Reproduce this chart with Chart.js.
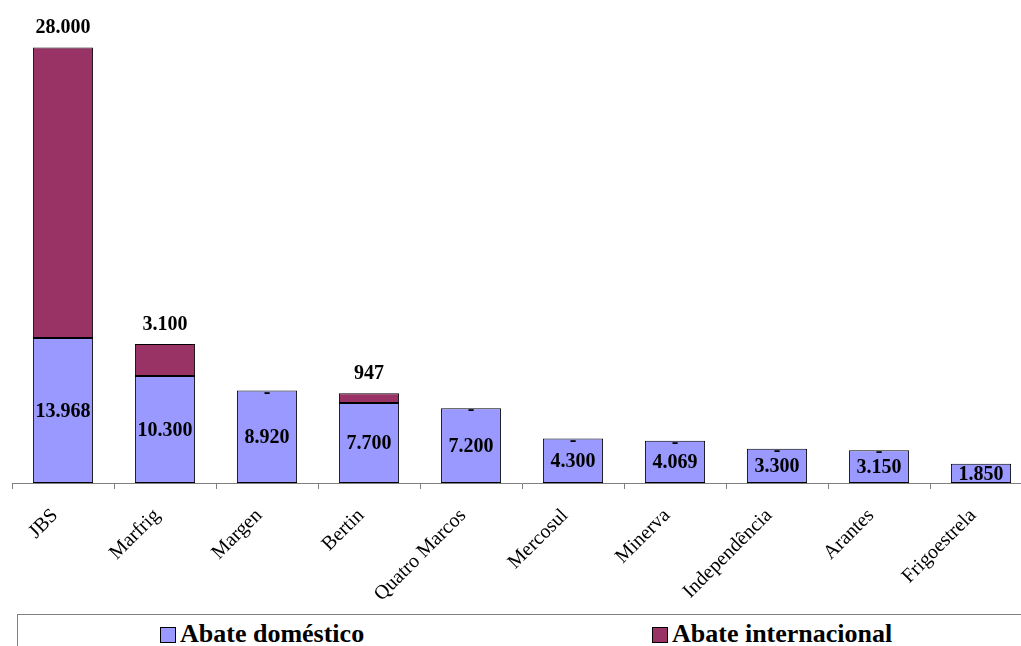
<!DOCTYPE html>
<html>
<head>
<meta charset="utf-8">
<script src="https://cdn.jsdelivr.net/npm/chart.js@4.4.0/dist/chart.umd.min.js"></script>
<style>
    html, body { margin: 0; padding: 0; background: #fff; overflow: hidden; width: 1021px; height: 646px; }
    #wrap { position: absolute; left: 0; top: 0; width: 1032px; height: 610px; }
    #legend { position: absolute; left: 17px; top: 614px; width: 1020px; height: 60px; border: 1px solid #808080; box-sizing: border-box;
              font-family: 'Liberation Serif', serif; font-weight: 700; font-size: 26px; color: #000; }
    .item { position: absolute; top: 5px; white-space: nowrap; line-height: 28px; }
    .sw { display: inline-block; width: 14px; height: 14px; border: 1px solid #000; margin-right: 4px; vertical-align: -1px; }
</style>
</head>
<body>
<div id="wrap"><canvas id="chart"></canvas></div>
<div id="legend">
    <span class="item" style="left:142px"><span class="sw" style="background:#9999FF"></span>Abate doméstico</span>
    <span class="item" style="left:634px"><span class="sw" style="background:#993366"></span>Abate internacional</span>
</div>
<script>
    // Data
    const categories = ['JBS', 'Marfrig', 'Margen', 'Bertin', 'Quatro Marcos', 'Mercosul', 'Minerva', 'Independência', 'Arantes', 'Frigoestrela'];
    const domestic = [13968, 10300, 8920, 7700, 7200, 4300, 4069, 3300, 3150, 1850];
    const international = [28000, 3100, 0, 947, 0, 0, 0, 0, 0, null];

    // Format numbers with a dot as thousands separator
    function fmt(v) {
        return String(v).replace(/\B(?=(\d{3})+(?!\d))/g, '.');
    }

    // Draw the value labels on the bars
    const barLabels = {
        id: 'barLabels',
        afterDatasetsDraw(chart) {
            const ctx = chart.ctx;
            const dom = chart.getDatasetMeta(0).data;
            const intl = chart.getDatasetMeta(1).data;
            ctx.save();
            ctx.font = 'bold 20px "Liberation Serif", serif';
            ctx.fillStyle = '#000';
            ctx.textAlign = 'center';
            dom.forEach((bar, i) => {
                ctx.textBaseline = 'middle';
                ctx.fillText(fmt(domestic[i]), bar.x, (bar.y + bar.base) / 2 + 1);
                const v = international[i];
                if (v === null) return;
                const top = intl[i];
                if (v > 0) {
                    ctx.textBaseline = 'alphabetic';
                    ctx.fillText(fmt(v), top.x, top.y - 14);
                } else {
                    ctx.fillText('-', top.x, top.y + 2);
                }
            });
            ctx.restore();
        }
    };

    const ctx = document.getElementById('chart').getContext('2d');
    new Chart(ctx, {
        type: 'bar',
        data: {
            labels: categories,
            datasets: [{
                label: 'Abate doméstico',
                data: domestic,
                backgroundColor: '#9999FF',
                borderColor: '#000',
                borderWidth: 1,
                borderSkipped: false
            }, {
                label: 'Abate internacional',
                data: international,
                backgroundColor: '#993366',
                borderColor: '#000',
                borderWidth: 1,
                borderSkipped: false
            }]
        },
        options: {
            responsive: true,
            maintainAspectRatio: false,
            animation: false,
            layout: { padding: { left: 12, right: 0, top: 16, bottom: 0 } },
            plugins: {
                legend: { display: false },
                tooltip: { enabled: false }
            },
            datasets: {
                bar: { categoryPercentage: 1, barPercentage: 0.59 }
            },
            scales: {
                x: {
                    stacked: true,
                    offset: true,
                    grid: { offset: true, drawOnChartArea: false, drawTicks: true, tickLength: 6, color: '#808080' },
                    border: { color: '#808080', width: 1 },
                    ticks: {
                        minRotation: 45,
                        maxRotation: 45,
                        padding: 15,
                        labelOffset: -8,
                        color: '#000',
                        font: { family: '"Liberation Serif", serif', size: 20 }
                    },
                    afterFit: s => { s.height = 127; }
                },
                y: {
                    stacked: true,
                    display: false,
                    min: 0,
                    max: 45000
                }
            }
        },
        plugins: [barLabels]
    });
</script>
</body>
</html>
